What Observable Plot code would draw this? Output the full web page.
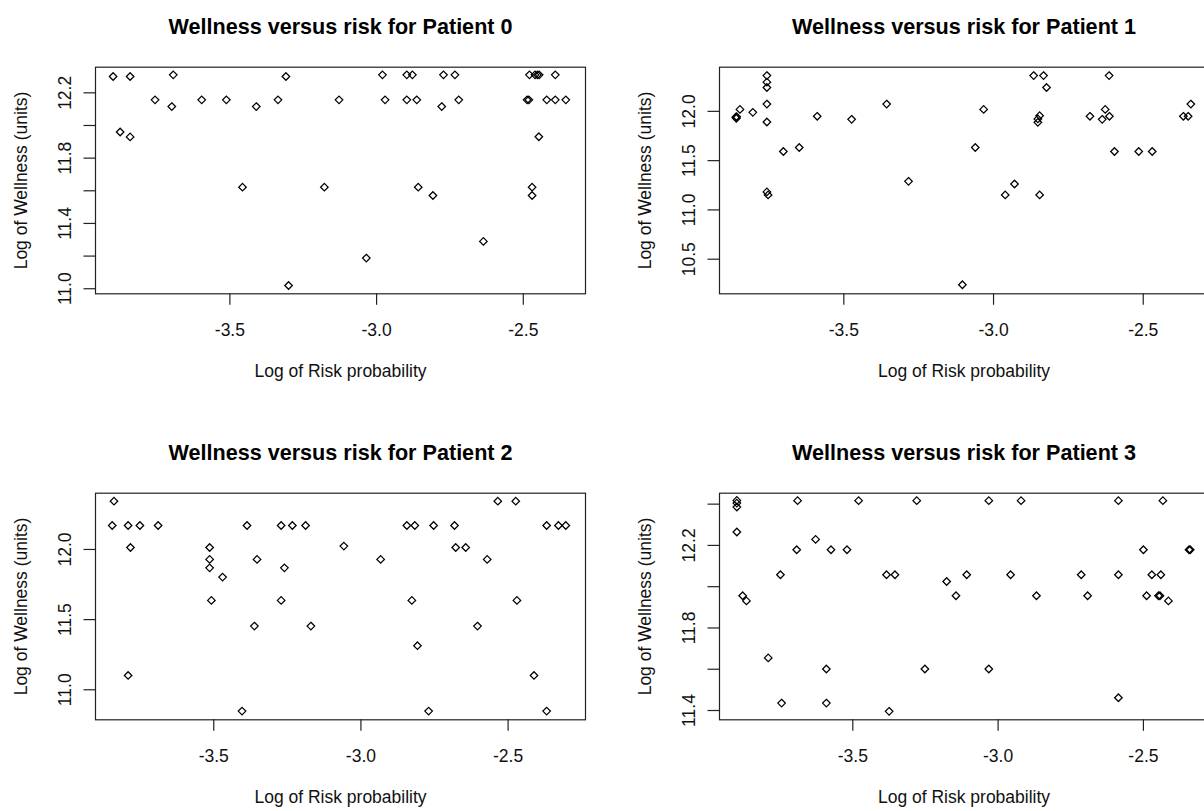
<!DOCTYPE html>
<html>
<head>
<meta charset="utf-8">
<script src="https://cdn.jsdelivr.net/npm/d3@7"></script>
<script src="https://cdn.jsdelivr.net/npm/@observablehq/plot@0.6"></script>
<style>
  html, body { margin: 0; padding: 0; background: #fff; }
  body { width: 1204px; height: 811px; overflow: hidden; position: relative; }
  .cell { position: absolute; overflow: visible; }
  .cell svg { max-width: none !important; height: auto; display: block; }
</style>
</head>
<body>
<div class="cell" id="p0" style="left:0;top:0;width:602px"></div>
<div class="cell" id="p1" style="left:602px;top:0;width:620px"></div>
<div class="cell" id="p2" style="left:0;top:426px;width:602px"></div>
<div class="cell" id="p3" style="left:602px;top:426px;width:620px"></div>
<script>
// ---------- data ----------
const titles = [
  "Wellness versus risk for Patient 0",
  "Wellness versus risk for Patient 1",
  "Wellness versus risk for Patient 2",
  "Wellness versus risk for Patient 3"
];
const xLabel = "Log of Risk probability";
const yLabel = "Log of Wellness (units)";

const xTicks = [-3.5, -3.0, -2.5];

const p0x = [-3.898,-3.840,-3.874,-3.840,-3.755,-3.693,-3.698,-3.596,-3.512,-3.457,-3.410,-3.336,-3.309,-3.300,-3.178,-3.128,-3.035,-2.980,-2.971,-2.897,-2.878,-2.897,-2.863,-2.858,-2.808,-2.778,-2.772,-2.733,-2.720,-2.636,-2.479,-2.460,-2.452,-2.446,-2.487,-2.481,-2.470,-2.470,-2.447,-2.420,-2.391,-2.391,-2.355];
const p0y = [12.30,12.30,11.96,11.93,12.157,12.31,12.116,12.157,12.157,11.622,12.116,12.157,12.30,11.02,11.622,12.157,11.188,12.31,12.157,12.31,12.31,12.157,12.157,11.622,11.571,12.116,12.31,12.31,12.157,11.29,12.31,12.31,12.31,12.31,12.157,12.157,11.622,11.571,11.931,12.157,12.31,12.157,12.157];
const p0yTicks = [11.0, 11.2, 11.4, 11.6, 11.8, 12.0, 12.2];
const p0yLabels = [11.0, 11.4, 11.8, 12.2];

const p1x = [-3.861,-3.858,-3.859,-3.847,-3.804,-3.757,-3.757,-3.757,-3.757,-3.757,-3.757,-3.753,-3.702,-3.649,-3.589,-3.474,-3.357,-3.284,-3.104,-3.061,-3.033,-2.961,-2.930,-2.866,-2.833,-2.823,-2.852,-2.852,-2.846,-2.846,-2.678,-2.637,-2.627,-2.613,-2.614,-2.596,-2.515,-2.470,-2.366,-2.350,-2.341];
const p1y = [11.94,11.945,11.93,12.02,11.99,12.363,12.296,12.242,12.074,11.892,11.183,11.152,11.593,11.633,11.95,11.919,12.074,11.290,10.241,11.633,12.02,11.152,11.263,12.363,12.363,12.242,11.889,11.923,11.956,11.152,11.95,11.919,12.02,11.95,12.363,11.593,11.593,11.593,11.95,11.95,12.074];
const p1yTicks = [10.5, 11.0, 11.5, 12.0];
const p1yLabels = [10.5, 11.0, 11.5, 12.0];

const p2x = [-3.839,-3.845,-3.791,-3.751,-3.689,-3.783,-3.791,-3.514,-3.514,-3.514,-3.470,-3.508,-3.404,-3.387,-3.362,-3.353,-3.271,-3.233,-3.188,-3.260,-3.271,-3.170,-3.058,-2.933,-2.844,-2.817,-2.753,-2.682,-2.678,-2.644,-2.827,-2.808,-2.770,-2.604,-2.571,-2.535,-2.474,-2.470,-2.412,-2.369,-2.369,-2.329,-2.304];
const p2y = [12.344,12.171,12.171,12.171,12.171,12.014,11.102,12.014,11.929,11.869,11.803,11.637,10.848,12.171,11.454,11.929,12.171,12.171,12.171,11.869,11.637,11.454,12.024,11.929,12.171,12.171,12.171,12.171,12.014,12.014,11.637,11.314,10.848,11.454,11.929,12.344,12.344,11.637,11.102,10.848,12.171,12.171,12.171];
const p2yTicks = [11.0, 11.5, 12.0];
const p2yLabels = [11.0, 11.5, 12.0];

const p3x = [-3.899,-3.899,-3.899,-3.899,-3.879,-3.866,-3.791,-3.749,-3.745,-3.690,-3.693,-3.628,-3.591,-3.591,-3.575,-3.520,-3.480,-3.384,-3.355,-3.375,-3.280,-3.252,-3.177,-3.145,-3.108,-3.032,-3.032,-2.957,-2.921,-2.868,-2.714,-2.692,-2.586,-2.586,-2.586,-2.500,-2.489,-2.471,-2.440,-2.448,-2.443,-2.433,-2.414,-2.343,-2.339];
const p3y = [12.418,12.405,12.386,12.265,11.956,11.931,11.655,12.058,11.436,12.417,12.179,12.229,11.601,11.436,12.179,12.179,12.417,12.058,12.058,11.396,12.417,11.601,12.025,11.956,12.058,12.417,11.601,12.058,12.417,11.956,12.058,11.956,12.417,12.058,11.462,12.179,11.956,12.058,12.058,11.956,11.956,12.417,11.931,12.179,12.179];
const p3yTicks = [11.4, 11.6, 11.8, 12.0, 12.2, 12.4];
const p3yLabels = [11.4, 11.8, 12.2];

// ---------- drawing ----------
const FONT = "'Liberation Sans', Arial, Helvetica, sans-serif";
const fmt = d => d.toFixed(1);
const INK = "#111";

function panel({title, xs, ys, xDomain, yDomain, yTicks, yLabels, width, height, ml, mr}) {
  const data = xs.map((x, i) => ({x, y: ys[i]}));
  return Plot.plot({
    width, height,
    marginLeft: ml, marginRight: mr, marginTop: 66.7, marginBottom: height - 293.3,
    x: {domain: xDomain},
    y: {domain: yDomain},
    style: {fontFamily: FONT, fontSize: "17.5px", color: INK, background: "transparent", overflow: "visible", maxWidth: "none"},
    marks: [
      Plot.axisX({ticks: xTicks, tickSize: 11.5, fill: "none", stroke: "#222", strokeWidth: 1.2, label: null}),
      Plot.axisY({ticks: yTicks, tickSize: 11.5, fill: "none", stroke: "#222", strokeWidth: 1.2, label: null}),
      Plot.text(xTicks, {x: d => d, text: fmt, frameAnchor: "bottom", dy: 41.7, lineAnchor: "bottom", fill: INK}),
      Plot.text(yLabels, {y: d => d, text: fmt, frameAnchor: "left", dx: -24.3, rotate: -90, lineAnchor: "bottom", textAnchor: "middle", fill: INK}),
      Plot.text([xLabel], {text: d => d, frameAnchor: "bottom", dy: 83.4, lineAnchor: "bottom", fill: INK}),
      Plot.text([yLabel], {text: d => d, frameAnchor: "left", dx: -69, rotate: -90, lineAnchor: "bottom", textAnchor: "middle", fill: INK}),
      Plot.text([title], {text: d => d, frameAnchor: "top", dy: -33.2, lineAnchor: "bottom", fontWeight: "bold", fontSize: 21.6, fill: "#000"}),
      Plot.frame({stroke: "#222", strokeWidth: 1.2}),
      Plot.dot(data, {x: "x", y: "y", symbol: "diamond2", r: 3.4, stroke: "#000", strokeWidth: 1.25, fill: "none"})
    ]
  });
}

document.getElementById("p0").append(panel({
  title: titles[0], xs: p0x, ys: p0y, xDomain: [-3.958, -2.288], yDomain: [10.969, 12.357],
  yTicks: p0yTicks, yLabels: p0yLabels, width: 602, height: 426, ml: 95, mr: 17
}));
document.getElementById("p1").append(panel({
  title: titles[1], xs: p1x, ys: p1y, xDomain: [-3.9153, -2.282], yDomain: [10.149, 12.448],
  yTicks: p1yTicks, yLabels: p1yLabels, width: 620, height: 426, ml: 117, mr: 14
}));
document.getElementById("p2").append(panel({
  title: titles[2], xs: p2x, ys: p2y, xDomain: [-3.9018, -2.237], yDomain: [10.786, 12.401],
  yTicks: p2yTicks, yLabels: p2yLabels, width: 602, height: 385, ml: 95, mr: 17
}));
document.getElementById("p3").append(panel({
  title: titles[3], xs: p3x, ys: p3y, xDomain: [-3.9587, -2.276], yDomain: [11.355, 12.453],
  yTicks: p3yTicks, yLabels: p3yLabels, width: 620, height: 385, ml: 117, mr: 14
}));
</script>
</body>
</html>
